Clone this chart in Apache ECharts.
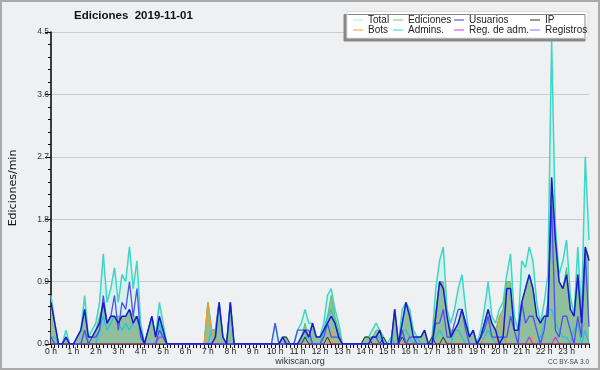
<!DOCTYPE html>
<html><head><meta charset="utf-8">
<script src="https://cdn.jsdelivr.net/npm/echarts@6/dist/echarts.min.js"></script>
<style>html,body{margin:0;padding:0;background:#eff0f1}#c{width:600px;height:370px}</style>
</head><body><div id="c"></div>
<script>
// 10-minute buckets, 0h .. 24h (145 points), grouped 6 per hour
const total = [
 0.7,0.3,0,0,0.2,0,  0,0.1,0.2,0.7,0.1,0.2,  0.3,0.6,1.3,0.6,0.8,1.1,  0.6,1.0,0.9,1.4,0.8,1.2,
 0.3,0,0.2,0.4,0.1,0.6,  0.3,0,0,0,0,0,  0,0,0,0,0,0,  0.6,0.2,0.2,0.6,0.1,0,
 0.6,0,0,0,0,0,  0,0,0,0,0,0,  0.3,0,0.1,0.1,0,0,  0.2,0.3,0.5,0.3,0.3,0.1,
 0.1,0.3,0.7,0.8,0.5,0.3,  0,0,0,0,0,0,  0.1,0.1,0.2,0.3,0.2,0.1,  0,0,0.5,0,0.5,0.6,
 0.5,0.2,0.1,0.1,0.2,0,  0.1,0.8,1.2,1.4,0.5,0.3,  0.5,0.8,1.0,0.5,0.1,0.2,  0,0.2,0.5,0.9,0.4,0.3,
 0.5,0.6,1.0,1.3,0.4,0.2,  1.2,1.1,1.4,1.2,0.6,0.3,  0.6,1.0,4.4,1.7,1.0,1.2,  1.5,0.7,0.4,1.4,0.4,2.7,
 1.5];
const ediciones = [
 0.6,0.3,0,0,0.1,0,  0,0.1,0.2,0.5,0.1,0.1,  0.2,0.4,0.6,0.3,0.4,0.4,  0.4,0.4,0.4,0.5,0.4,0.4,
 0.2,0,0.2,0.4,0.1,0.4,  0.2,0,0,0,0,0,  0,0,0,0,0,0,  0.6,0.2,0.2,0.6,0.1,0,
 0.6,0,0,0,0,0,  0,0,0,0,0,0,  0,0,0.1,0.1,0,0,  0,0.1,0.3,0.1,0.3,0.1,
 0.1,0.2,0.4,0.7,0.4,0.2,  0,0,0,0,0,0,  0.1,0.1,0.1,0.2,0.2,0.1,  0,0,0.5,0,0.3,0.6,
 0.4,0.1,0.1,0.1,0.2,0,  0.1,0.5,0.9,0.9,0.4,0.2,  0.2,0.3,0.5,0.3,0.1,0.2,  0,0.1,0.3,0.5,0.3,0.2,
 0.4,0.5,0.9,0.9,0.2,0.2,  0.6,0.8,1.0,0.8,0.4,0.3,  0.4,0.4,2.4,1.5,0.9,0.8,  1.1,0.5,0.4,1.0,0.3,1.4,
 1.25];
const usuarios = [
 0.6,0.3,0,0,0.1,0,  0,0.1,0.2,0.5,0.1,0.1,  0.2,0.3,0.6,0.3,0.4,0.4,  0.3,0.4,0.4,0.5,0.3,0.4,
 0.2,0,0.2,0.4,0.1,0.4,  0.2,0,0,0,0,0,  0,0,0,0,0,0,  0,0,0.1,0.6,0.1,0,
 0.6,0,0,0,0,0,  0,0,0,0,0,0,  0,0,0.1,0,0,0,  0,0.1,0.2,0.1,0.3,0.1,
 0.1,0.2,0.3,0.4,0.3,0.1,  0,0,0,0,0,0,  0,0,0.1,0.1,0.2,0,  0,0,0.5,0,0.3,0.6,
 0.4,0.1,0.1,0.1,0.2,0,  0,0.4,0.9,0.8,0.4,0.1,  0.2,0.3,0.5,0.3,0.1,0.2,  0,0.1,0.3,0.5,0.3,0.2,
 0,0.1,0.8,0.8,0.2,0.2,  0.6,0.8,1.0,0.8,0.4,0.3,  0.4,0.4,2.4,1.5,0.9,0.8,  1.0,0.5,0.4,1.0,0.3,1.4,
 1.2];
const ip = [
 0,0,0,0,0,0,  0,0,0,0,0,0,  0,0,0,0,0,0,  0,0,0,0,0,0,
 0,0,0,0,0,0,  0,0,0,0,0,0,  0,0,0,0,0,0,  0,0,0,0,0,0,
 0,0,0,0,0,0,  0,0,0,0,0,0,  0,0,0.1,0.1,0,0,  0,0,0.1,0,0,0,
 0,0,0.1,0,0,0,  0,0,0,0,0,0,  0.1,0.1,0,0,0,0.1,  0,0,0,0,0.1,0,
 0,0,0,0,0,0,  0.1,0,0,0.1,0,0,  0,0,0,0,0,0,  0,0,0,0,0,0,
 0,0,0,0,0,0,  0,0,0,0,0,0,  0,0,0,0,0,0,  0,0,0,0,0,0,
 0];
const bots = [
 0,0,0,0,0,0,  0,0,0,0,0,0,  0,0,0,0,0,0,  0,0,0,0,0,0,
 0,0,0,0,0,0,  0,0,0,0,0,0,  0,0,0,0,0,0,  0.6,0.2,0,0,0,0,
 0,0,0,0,0,0,  0,0,0,0,0,0,  0,0,0,0,0,0,  0,0,0,0,0,0,
 0,0,0,0.2,0,0,  0,0,0,0,0,0,  0,0,0,0,0,0,  0,0,0,0,0,0,
 0,0,0,0,0,0,  0,0,0,0,0,0,  0,0,0,0,0,0,  0,0.1,0,0,0,0,
 0.4,0.4,0,0,0,0,  0,0,0,0.1,0,0,  0,0,0,0,0,0,  0,0,0,0,0,0,
 0];
const admins = [
 0.1,0.1,0,0,0,0,  0,0,0,0.2,0,0,  0,0.2,0.4,0.2,0.3,0.4,  0.3,0.2,0.3,0.2,0.3,0.4,
 0.1,0,0.2,0.4,0.1,0.3,  0.1,0,0,0,0,0,  0,0,0,0,0,0,  0,0.2,0.2,0.6,0.1,0,
 0.6,0,0,0,0,0,  0,0,0,0,0,0,  0,0,0,0,0,0,  0,0,0.1,0.1,0,0,
 0,0.2,0.4,0.5,0.3,0.1,  0,0,0,0,0,0,  0,0,0.1,0.1,0.1,0,  0,0.1,0,0,0.2,0.2,
 0.1,0,0.1,0,0,0,  0,0.1,0.2,0.1,0,0,  0.2,0.2,0.1,0,0,0,  0,0,0.1,0.2,0.1,0,
 0.1,0.1,0,0,0,0,  0,0,0.1,0,0,0.1,  0.3,0.5,0.5,0.3,0.2,0.1,  0.1,0,0.2,0.3,0,0.2,
 0];
const regAdm = [
 0,0,0,0,0,0,  0,0,0,0,0,0,  0,0,0,0,0,0,  0,0,0,0,0,0,
 0,0,0,0,0,0.1,  0.1,0,0,0,0,0,  0,0,0,0,0,0,  0,0,0,0,0,0,
 0,0,0,0,0,0,  0,0,0,0,0,0,  0,0,0,0,0,0,  0,0,0,0,0,0,
 0,0,0,0,0,0,  0,0,0,0,0,0,  0,0,0,0,0,0,  0,0,0,0,0,0,
 0,0,0,0,0,0,  0,0,0,0,0,0,  0,0,0,0,0,0,  0,0,0,0,0,0,
 0,0,0,0,0,0,  0,0,0.1,0,0,0,  0,0,0,0.1,0,0,  0,0,0,0,0,0,
 0];
const registros = [
 0.1,0,0,0,0.1,0,  0,0,0,0.2,0,0.1,  0.1,0.2,0.7,0.3,0.4,0.7,  0.2,0.6,0.5,0.9,0.4,0.8,
 0.1,0,0,0,0,0.2,  0.1,0,0,0,0,0,  0,0,0,0,0,0,  0,0,0,0,0,0,
 0,0,0,0,0,0,  0,0,0,0,0,0,  0.3,0,0,0,0,0,  0.2,0.2,0.2,0.2,0,0,
 0,0.1,0.3,0.1,0.1,0.1,  0,0,0,0,0,0,  0,0,0.1,0.1,0,0,  0,0,0,0,0.2,0,
 0.1,0.1,0,0,0,0,  0,0.3,0.3,0.5,0.1,0.1,  0.3,0.5,0.5,0.2,0,0,  0,0.1,0.2,0.4,0.1,0.1,
 0.1,0.1,0.1,0.4,0.2,0,  0.6,0.3,0.4,0.4,0.2,0,  0.2,0.6,2.0,0.2,0.1,0.4,  0.4,0.2,0,0.4,0.1,1.3,
 0.25];
const hourLabels = Array.from({length: 24}, (_, h) => h + ' h');
const seriesNames = ['Total','Ediciones','Usuarios','IP','Bots','Admins.','Reg. de adm.','Registros'];
const legendColors = ['#a6e6e0','#77cc77','#3333ee','#333333','#ff9922','#33ccdd','#dd33ee','#7777ff'];

const pts = arr => arr.map((v, i) => [i / 6, v]);
const font = 'Liberation Sans, Arial, sans-serif';
const chart = echarts.init(document.getElementById('c'), null, {renderer: 'canvas'});

const legendPos = [[353,15],[393,15],[454,15],[530,15],[353,25],[393,25],[454,25],[530,25]];
const legends = seriesNames.map((n, k) => ({
  data: [{name: n, itemStyle: {color: legendColors[k]}}],
  left: legendPos[k][0], top: legendPos[k][1], padding: 0,
  icon: 'rect', itemWidth: 10, itemHeight: 1,
  textStyle: {fontSize: 10, fontFamily: font, color: '#222'},
  selectedMode: false, z: 10
}));

function line(name, data, color, width, z, area) {
  const s = {
    name, type: 'line', data: pts(data), showSymbol: false, symbol: 'none',
    lineStyle: {color, width}, itemStyle: {color}, z, animation: false
  };
  if (area) s.areaStyle = {color: area, opacity: 1};
  return s;
}

chart.setOption({
  backgroundColor: '#eff0f1',
  animation: false,
  title: {text: 'Ediciones  2019-11-01', left: 74, top: 10, padding: 0,
    textStyle: {fontSize: 11.5, fontWeight: 'bold', fontFamily: font, color: '#111'}},
  legend: legends,
  grid: {left: 46, top: 32, right: 11, bottom: 26},
  xAxis: {
    type: 'value', min: 0, max: 24, interval: 1,
    axisLine: {lineStyle: {color: '#000', width: 1.5}},
    axisTick: {length: 4, lineStyle: {color: '#000'}},
    minorTick: {show: true, splitNumber: 6, length: 4, lineStyle: {color: '#000'}},
    splitLine: {show: false},
    axisLabel: {margin: 3, fontSize: 8.5, fontFamily: font, color: '#222',
      formatter: v => (v < 24 ? hourLabels[v] : '')}
  },
  yAxis: {
    type: 'value', min: 0, max: 4.5, interval: 0.9,
    name: 'Ediciones/min', nameLocation: 'middle', nameGap: 32, nameRotate: 90,
    nameTextStyle: {fontSize: 11, fontFamily: 'DejaVu Sans, sans-serif', color: '#111'},
    axisLine: {show: true, lineStyle: {color: '#000', width: 1.5}},
    axisTick: {show: true, length: 6, lineStyle: {color: '#000'}},
    minorTick: {show: true, splitNumber: 5, length: 3, lineStyle: {color: '#000'}},
    splitLine: {show: true, lineStyle: {color: '#cccccc', width: 1}},
    axisLabel: {margin: 2, fontSize: 8.5, fontFamily: font, color: '#333',
      formatter: v => v.toFixed(1)}
  },
  graphic: [
    {type: 'rect', z: 5, shape: {x: 347, y: 11.5, width: 241, height: 26.5},
      style: {fill: '#ffffff', stroke: '#dddddd', lineWidth: 1,
        shadowColor: '#888888', shadowOffsetX: -3, shadowOffsetY: 3, shadowBlur: 0}},
    {type: 'rect', z: 1, silent: true, shape: {x: 1, y: 1, width: 598, height: 368},
      style: {fill: 'none', stroke: '#aaaaaa', lineWidth: 2}},
    {type: 'text', z: 5, style: {text: 'wikiscan.org', x: 300, y: 361.5, align: 'center',
      verticalAlign: 'middle', fontSize: 9, fontFamily: font, fill: '#333'}},
    {type: 'text', z: 5, style: {text: 'CC BY-SA 3.0', x: 589, y: 362, align: 'right',
      verticalAlign: 'middle', fontSize: 6.5, fontFamily: font, fill: '#444'}}
  ],
  series: [
    line('Total', total, '#3ed6c6', 1.5, 2, '#d6f1ec'),
    line('Ediciones', ediciones, '#66bb66', 1, 3, '#8fbf9c'),
    line('Admins.', admins, '#22c4dc', 1.2, 4),
    line('Bots', bots, '#ff9922', 1.2, 4),
    line('Reg. de adm.', regAdm, '#cc33ee', 1.2, 4),
    line('IP', ip, '#333333', 1, 4),
    line('Registros', registros, '#4f4ff2', 1.3, 5),
    line('Usuarios', usuarios, '#1a1ad0', 1.5, 6)
  ]
});
</script></body></html>
